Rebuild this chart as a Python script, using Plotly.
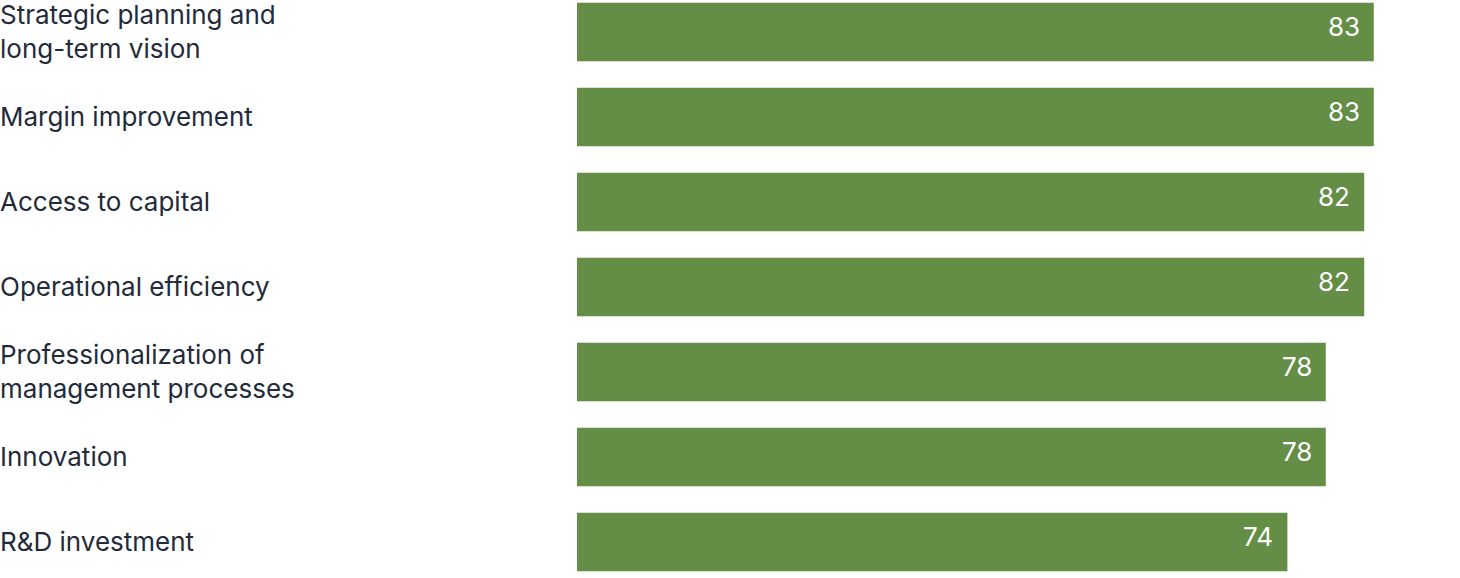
import plotly.graph_objects as go

categories = ["Strategic planning and<br>long-term vision",
              "Margin improvement",
              "Access to capital",
              "Operational efficiency",
              "Professionalization of<br>management processes",
              "Innovation",
              "R&D investment"]
values = [83, 83, 82, 82, 78, 78, 74]

bar_color = "#648d45"
text_color = "#232b3b"

fig = go.Figure()
fig.add_trace(go.Bar(
    x=values,
    y=categories,
    orientation="h",
    marker=dict(color=bar_color, line=dict(width=0)),
    hoverinfo="skip",
))

# category labels sit at the far left of the figure
for cat in categories:
    fig.add_annotation(x=0, xref="paper", y=cat, yref="y", text=cat,
                       showarrow=False, xanchor="left", yanchor="middle", align="left",
                       xshift=-2,
                       font=dict(family="Inter", size=26, color=text_color))

# values inside the end of each bar
for cat, v in zip(categories, values):
    fig.add_annotation(x=v, y=cat, text=str(v), showarrow=False,
                       xanchor="right", yanchor="middle", xshift=-12, yshift=5,
                       font=dict(family="Inter", size=26, color="#ffffff"))

fig.update_layout(
    width=1460, height=578,
    margin=dict(l=0, r=0, t=0, b=0),
    plot_bgcolor="white", paper_bgcolor="white",
    bargap=0.31,
    showlegend=False,
    xaxis=dict(domain=[577 / 1460, 1], range=[0, 91.98], visible=False, fixedrange=True),
    yaxis=dict(range=[6.424, -0.376], visible=False, fixedrange=True),
)

fig.write_html("out.html", config={"displayModeBar": False},
               post_script="document.body.style.margin='0';")
